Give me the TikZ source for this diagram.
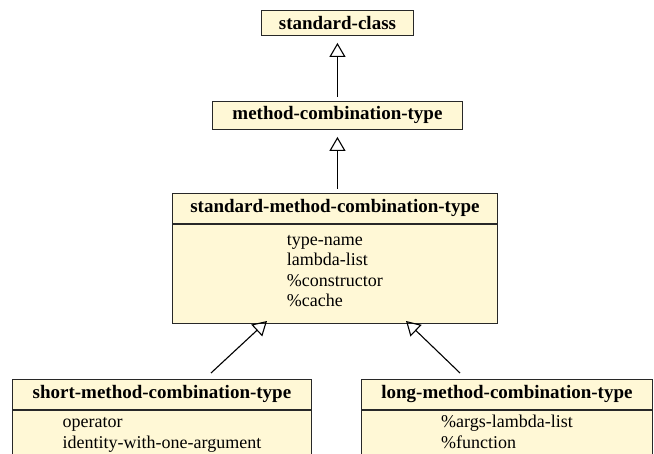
\documentclass[tikz,border=0pt]{standalone}
\usepackage{fontspec}
\setmainfont{Liberation Serif}
\usetikzlibrary{arrows.meta}
\definecolor{classfill}{RGB}{255,248,214}
\definecolor{classline}{RGB}{40,40,40}
\tikzset{
  classhead/.style={draw=classline, fill=classfill, line width=0.9pt, inner sep=0pt,
    font=\fontsize{19}{20}\selectfont\bfseries, anchor=north west},
  classbody/.style={draw=classline, fill=classfill, line width=0.9pt, inner xsep=0pt, inner ysep=3pt,
    font=\fontsize{18}{20.5}\selectfont, anchor=north west, align=left},
  inherit/.style={line width=1.1pt, -{Triangle[open, width=16pt, length=14pt, line width=1.1pt]}},
}
\begin{document}
\begin{tikzpicture}[x=1pt, y=-1pt]
\useasboundingbox (0,0) rectangle (654,454);
\clip (0,0) rectangle (654,454);

% root class
\node[classhead, minimum width=152pt, minimum height=25pt] (sc) at (261,10) {standard-class};

% abstract method combination type
\node[classhead, minimum width=250pt, minimum height=28pt] (mct) at (212,101) {method-combination-type};

% standard method combination type with slots
\node[classhead, minimum width=325pt, minimum height=30pt] (smct) at (172,193) {standard-method-combination-type};
\node[classbody, minimum width=325pt, minimum height=99pt] (smct-slots) at (smct.south west)
  {\begin{tabular}{@{}l@{}}type-name\\ lambda-list\\ \%constructor\\ \%cache\\[4pt]\end{tabular}};

% short form (continues below the visible area)
\node[classhead, minimum width=299pt, minimum height=30pt] (short) at (12,379) {short-method-combination-type};
\node[classbody, minimum width=299pt] (short-slots) at (short.south west)
  {\begin{tabular}{@{}l@{}}operator\\ identity-with-one-argument\\ \strut\end{tabular}};

% long form (continues below the visible area)
\node[classhead, minimum width=291pt, minimum height=30pt] (long) at (361,379) {long-method-combination-type};
\node[classbody, minimum width=291pt] (long-slots) at (long.south west)
  {\begin{tabular}{@{}l@{}}\%args-lambda-list\\ \%function\\ \strut\end{tabular}};

% inheritance arrows
\draw[inherit, shorten <=4pt, shorten >=7pt] (mct.north) -- (sc.south);
\draw[inherit, shorten <=4pt, shorten >=7pt] (mct.south |- smct.north) -- (mct.south);
\coordinate (short-from) at (211,373);
\coordinate (short-to) at (267,321);
\coordinate (long-from) at (460,373);
\coordinate (long-to) at (406,321);
\draw[inherit] (short-from) -- (short-to);
\draw[inherit] (long-from) -- (long-to);
\end{tikzpicture}
\end{document}
